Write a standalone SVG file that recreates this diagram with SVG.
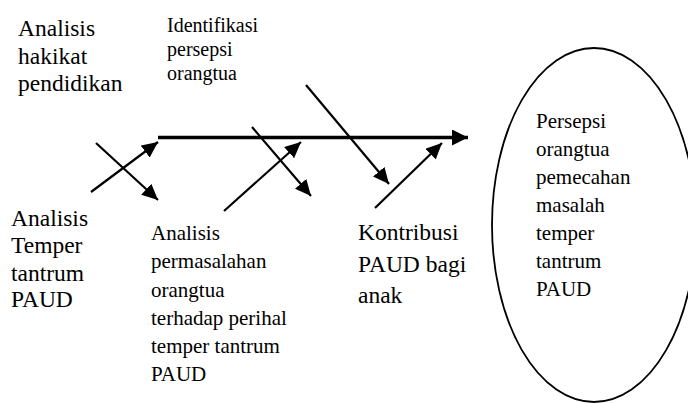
<svg xmlns="http://www.w3.org/2000/svg" width="688" height="403" viewBox="0 0 688 403">
<style>
.big{font-size:23.5px}
.mid{font-size:21px}
.sm{font-size:20px}
.ln{stroke:#000;stroke-width:2.2;fill:none}
.spine{stroke:#000;stroke-width:3.4;fill:none}
</style>
<defs>
<marker id="ah" markerUnits="userSpaceOnUse" markerWidth="17" markerHeight="15" refX="16" refY="7.5" orient="auto">
<path d="M0,0 L16,7.5 L0,15 z" fill="#000"/>
</marker>
<marker id="ahb" markerUnits="userSpaceOnUse" markerWidth="17" markerHeight="16" refX="16" refY="8" orient="auto">
<path d="M0,0 L16,8 L0,16 z" fill="#000"/>
</marker>
</defs>
<rect width="688" height="403" fill="#fff"/>
<g id="connectors">
<line class="spine" x1="158" y1="137.5" x2="468" y2="137.5" marker-end="url(#ahb)"/>
<line class="ln" x1="91" y1="192" x2="158" y2="142" marker-end="url(#ah)"/>
<line class="ln" x1="96" y1="143" x2="158" y2="200" marker-end="url(#ah)"/>
<line class="ln" x1="224" y1="211" x2="301" y2="142" marker-end="url(#ah)"/>
<line class="ln" x1="252" y1="127" x2="311" y2="196" marker-end="url(#ah)"/>
<line class="ln" x1="306" y1="85" x2="389" y2="184" marker-end="url(#ah)"/>
<line class="ln" x1="375" y1="208" x2="442" y2="143" marker-end="url(#ah)"/>
</g>
<g font-family="'Liberation Serif', 'Times New Roman', serif" fill="#000">
<g id="node-hakikat">
<text class="big" x="18" y="36">Analisis</text>
<text class="big" x="18" y="64">hakikat</text>
<text class="big" x="18" y="91">pendidikan</text>
</g>
<g id="node-identifikasi">
<text class="sm" x="167" y="32">Identifikasi</text>
<text class="sm" x="167" y="56">persepsi</text>
<text class="sm" x="167" y="80">orangtua</text>
</g>
<g id="node-temper">
<text class="big" x="11" y="226">Analisis</text>
<text class="big" x="11" y="253">Temper</text>
<text class="big" x="11" y="281">tantrum</text>
<text class="big" x="11" y="307">PAUD</text>
</g>
<g id="node-permasalahan">
<text class="mid" x="151" y="240">Analisis</text>
<text class="mid" x="151" y="268">permasalahan</text>
<text class="mid" x="151" y="297">orangtua</text>
<text class="mid" x="151" y="325">terhadap perihal</text>
<text class="mid" x="151" y="353">temper tantrum</text>
<text class="mid" x="151" y="381">PAUD</text>
</g>
<g id="node-kontribusi">
<text class="big" x="358" y="240">Kontribusi</text>
<text class="big" x="358" y="272">PAUD bagi</text>
<text class="big" x="358" y="303">anak</text>
</g>
<g id="node-persepsi">
<ellipse cx="594" cy="225" rx="102" ry="177" fill="none" stroke="#000" stroke-width="1.8"/>
<text class="mid" x="536" y="128">Persepsi</text>
<text class="mid" x="536" y="156">orangtua</text>
<text class="mid" x="536" y="184">pemecahan</text>
<text class="mid" x="536" y="212">masalah</text>
<text class="mid" x="536" y="240">temper</text>
<text class="mid" x="536" y="268">tantrum</text>
<text class="mid" x="536" y="296">PAUD</text>
</g>
</g>
</svg>
